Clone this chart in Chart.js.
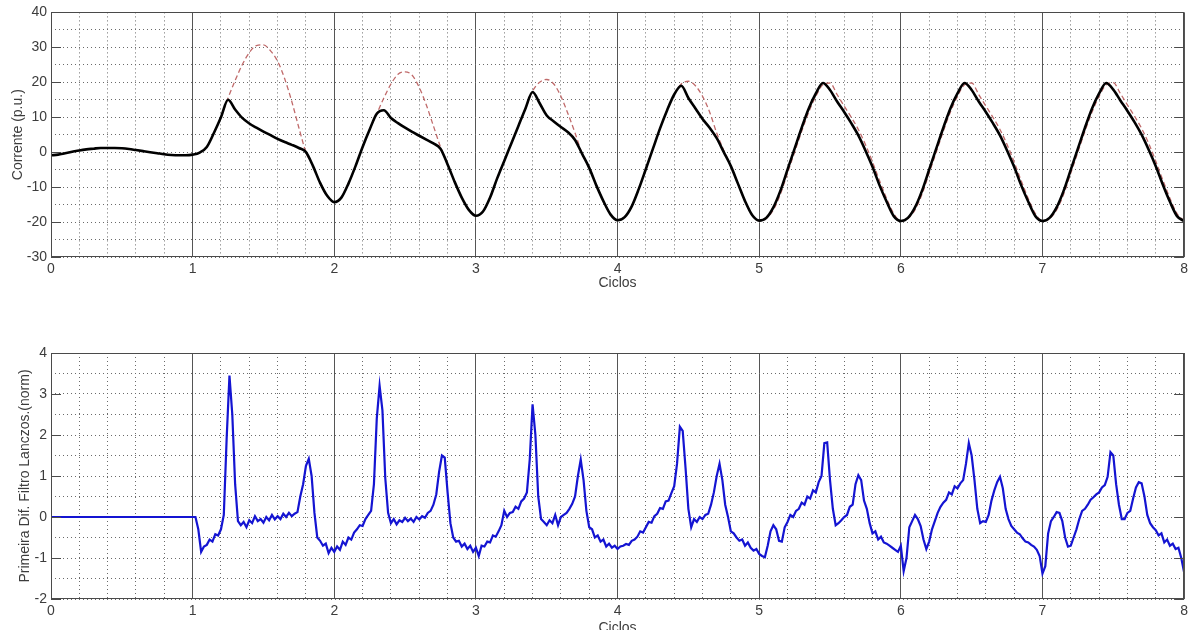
<!DOCTYPE html>
<html>
<head>
<meta charset="utf-8">
<script src="https://cdn.jsdelivr.net/npm/chart.js@4.4.1/dist/chart.umd.min.js"></script>
<style>
html, body { margin: 0; padding: 0; background: #fff; overflow: hidden; }
#grafico-corrente { position: absolute; left: 0; top: 0; }
#grafico-filtro { position: absolute; left: 0; top: 330px; }
</style>
</head>
<body>
<canvas id="grafico-corrente" width="1192" height="300"></canvas>
<canvas id="grafico-filtro" width="1192" height="312"></canvas>
<script>
// Tick positions of both charts
const marcasCiclos = Array.from({length: 41}, (_, i) => Math.round(i * 2) / 10);
const marcasCorrente = [-30, -25, -20, -15, -10, -5, 0, 5, 10, 15, 20, 25, 30, 35, 40];
const marcasFiltro = [-2, -1.5, -1, -0.5, 0, 0.5, 1, 1.5, 2, 2.5, 3, 3.5, 4];

// Upper chart: samples every 0.05 cycles
const tempoCorrente = Array.from({length: 161}, (_, i) => Math.round(i * 5) / 100);

// Measured current (black)
const correnteMedida = [
    -0.9, -0.7, -0.3, 0.1, 0.5, 0.8, 1.0, 1.2, 1.2, 1.2, 1.1, 0.9, 0.6, 0.3, 0.0, -0.3, -0.6, -0.8, -0.9, -0.9,
    -0.7, -0.1, 1.5, 5.5, 10, 15, 12.2, 9.8, 8.2, 7, 5.9, 4.9, 3.8, 2.9, 2.1, 1.2, 0, -4, -8.8, -12.5,
    -14.3, -13, -9, -4, 1.5, 6.5, 11, 12, 9.8, 8.3, 7, 5.8, 4.7, 3.6, 2.5, 1, -3.5, -8.5, -13, -16.5,
    -18.2, -17, -13, -7.5, -2.5, 2.5, 7.5, 12.5, 17.2, 14, 10.5, 8.8, 7.2, 5.7, 3.5, -0.5, -4.5, -9.5, -14, -17.8,
    -19.5, -18.6, -15.5, -10.5, -4.8, 1, 6.8, 12, 16.5, 19, 15.5, 12.5, 9.5, 7, 4, 0, -4, -9, -14, -18,
    -19.6, -18.8, -15.8, -11, -5, 1, 7, 12.5, 16.8, 19.8, 17.8, 14.5, 11.5, 8.3, 4.8, 0.5, -4.2, -9.5, -14.2, -18.3,
    -19.7, -18.8, -15.8, -11, -5, 1, 7, 12.5, 16.8, 19.8, 17.8, 14.5, 11.5, 8.3, 4.8, 0.5, -4.2, -9.5, -14.2, -18.3,
    -19.7, -18.8, -15.8, -11, -5, 1, 7, 12.5, 16.8, 19.8, 17.9, 14.8, 11.8, 8.6, 5, 0.7, -4, -9.3, -14.2, -18.3,
    -19.7
];

// Ideal current (red dashed)
const correnteIdeal = [
    -0.9, -0.7, -0.3, 0.1, 0.5, 0.8, 1.0, 1.2, 1.2, 1.2, 1.1, 0.9, 0.6, 0.3, 0.0, -0.3, -0.6, -0.8, -0.9, -0.9,
    -0.7, -0.1, 1.5, 5.5, 10, 15.5, 20.5, 25, 28.5, 30.5, 30.7, 29, 26, 21, 14.5, 7, 0, -4, -8.8, -12.5,
    -14.3, -13, -9, -4, 1.5, 6.5, 11, 15.5, 19.5, 22.3, 23, 22, 18.5, 13.5, 7.5, 1.5, -3.5, -8.5, -13, -16.5,
    -18.2, -17, -13, -7.5, -2.5, 2.5, 7.5, 12.5, 17.5, 20, 20.8, 19.5, 16, 11, 5.5, -0.5, -4.5, -9.5, -14, -17.8,
    -19.5, -18.6, -15.5, -10.5, -4.8, 1, 6.8, 12, 16.5, 19.5, 20.3, 19, 16, 11.5, 5.5, 0.5, -4, -9, -14, -18,
    -19.6, -19, -16.5, -12, -6, 0, 6, 11.5, 16, 19.3, 19.8, 16.5, 13.2, 10, 6.5, 2.2, -2.8, -8.2, -13.3, -17.6,
    -19.7, -19, -16.5, -12, -6, 0, 6, 11.5, 16, 19.3, 19.8, 16.5, 13.2, 10, 6.5, 2.2, -2.8, -8.2, -13.3, -17.6,
    -19.7, -19, -16.5, -12, -6, 0, 6, 11.5, 16, 19.3, 19.9, 16.8, 13.5, 10.3, 6.8, 2.5, -2.6, -8, -13.2, -17.6,
    -19.7
];

// Lower chart: flat start, then samples every 0.02 cycles from 1.00 to 8.00
const tempoFiltro = [0].concat(Array.from({length: 351}, (_, i) => Math.round(100 + i * 2) / 100));

const primeiraDiferenca = [
    0,
    // 1.00 - 1.98
    0, 0, -0.3, -0.85, -0.72, -0.68, -0.55, -0.6, -0.42, -0.45,
    -0.3, 0.05, 1.9, 3.45, 2.5, 0.8, -0.1, -0.2, -0.12, -0.25,
    -0.08, -0.15, 0.02, -0.1, -0.05, -0.14, 0.0, -0.08, 0.05, -0.06,
    0.02, -0.05, 0.08, 0.0, 0.1, 0.02, 0.08, 0.12, 0.5, 0.8,
    1.25, 1.42, 1.0, 0.1, -0.5, -0.58, -0.7, -0.65, -0.88, -0.75,
    // 2.00 - 2.98
    -0.85, -0.72, -0.8, -0.6, -0.68, -0.5, -0.55, -0.38, -0.3, -0.2,
    -0.22, -0.05, 0.05, 0.15, 0.8, 2.4, 3.2, 2.6, 0.95, 0.1,
    -0.15, -0.05, -0.18, -0.08, -0.12, -0.02, -0.1, -0.04, -0.12, 0.0,
    -0.06, 0.02, -0.02, 0.1, 0.15, 0.3, 0.55, 1.1, 1.5, 1.45,
    0.6, -0.15, -0.5, -0.6, -0.58, -0.72, -0.65, -0.78, -0.7, -0.85,
    // 3.00 - 3.98
    -0.75, -0.95, -0.7, -0.72, -0.6, -0.62, -0.45, -0.48, -0.35, -0.2,
    0.15, 0.0, 0.1, 0.12, 0.25, 0.2, 0.38, 0.45, 0.6, 1.4,
    2.75, 2.0, 0.5, -0.05, -0.12, -0.2, -0.08, -0.15, 0.05, -0.2,
    0.0, 0.05, 0.1, 0.2, 0.32, 0.5, 1.0, 1.4, 0.9, 0.15,
    -0.25, -0.3, -0.5, -0.45, -0.6, -0.55, -0.72, -0.65, -0.75, -0.7,
    // 4.00 - 4.98
    -0.78, -0.72, -0.7, -0.66, -0.68, -0.58, -0.55, -0.48, -0.35, -0.38,
    -0.25, -0.12, -0.14, 0.02, 0.08, 0.22, 0.2, 0.38, 0.4, 0.58,
    0.75, 1.3, 2.2, 2.1, 1.2, 0.2, -0.25, -0.05, -0.12, 0.0,
    -0.05, 0.05, 0.08, 0.3, 0.6, 1.0, 1.3, 0.9, 0.3, 0.0,
    -0.35, -0.4, -0.5, -0.58, -0.55, -0.7, -0.62, -0.75, -0.82, -0.78,
    // 5.00 - 5.98
    -0.9, -0.95, -0.98, -0.7, -0.35, -0.2, -0.3, -0.58, -0.6, -0.25,
    -0.12, 0.05, 0.0, 0.15, 0.2, 0.35, 0.3, 0.5, 0.45, 0.65,
    0.6, 0.85, 1.0, 1.8, 1.82, 0.9, 0.2, -0.2, -0.15, -0.08,
    0.0, 0.05, 0.25, 0.3, 0.8, 1.02, 0.9, 0.4, 0.2, -0.15,
    -0.4, -0.35, -0.55, -0.48, -0.62, -0.65, -0.7, -0.75, -0.8, -0.85,
    // 6.00 - 6.98
    -0.7, -1.32, -1.0, -0.25, -0.1, 0.05, -0.05, -0.22, -0.55, -0.78,
    -0.6, -0.3, -0.1, 0.1, 0.25, 0.35, 0.42, 0.6, 0.55, 0.75,
    0.7, 0.82, 0.9, 1.3, 1.8, 1.5, 0.9, 0.2, -0.15, -0.1,
    -0.12, 0.05, 0.4, 0.65, 0.85, 0.98, 0.7, 0.2, -0.05, -0.22,
    -0.3, -0.38, -0.42, -0.52, -0.6, -0.62, -0.68, -0.72, -0.8, -0.95,
    // 7.00 - 7.98
    -1.38, -1.2, -0.4, -0.1, 0.0, 0.12, 0.1, -0.1, -0.5, -0.72,
    -0.7, -0.5, -0.3, -0.05, 0.15, 0.2, 0.3, 0.42, 0.48, 0.55,
    0.6, 0.72, 0.78, 0.98, 1.58, 1.5, 0.8, 0.3, -0.05, -0.05,
    0.1, 0.15, 0.45, 0.72, 0.85, 0.82, 0.5, 0.05, -0.15, -0.25,
    -0.32, -0.45, -0.4, -0.62, -0.55, -0.7, -0.65, -0.78, -0.75, -1.0,
    // 8.00
    -1.35
];


const fonteEixo = {family: "'Liberation Sans', Arial, sans-serif", size: 14};
const corTexto = '#3c3c3c';

function EhInteiro(v, passo) {
    return Math.abs(v / passo - Math.round(v / passo)) < 1e-6;
}

// Box around the plot area and inward tick marks on both sides
const moldura = {
    id: 'moldura',
    afterDraw(chart, args, opts) {
        const {ctx, chartArea: area} = chart;
        const escalaY = chart.scales.y;
        ctx.save();
        ctx.strokeStyle = '#4a4a4a';
        ctx.lineWidth = 1;
        ctx.beginPath();
        for (const t of escalaY.ticks) {
            if (!EhInteiro(t.value, opts.passo)) continue;
            const py = Math.round(escalaY.getPixelForValue(t.value)) + 0.5;
            ctx.moveTo(area.left, py);
            ctx.lineTo(area.left + 10, py);
            ctx.moveTo(area.right - 10, py);
            ctx.lineTo(area.right, py);
        }
        ctx.stroke();
        ctx.strokeRect(Math.round(area.left) + 0.5, Math.round(area.top) + 0.5,
            Math.round(area.right - area.left) - 1, Math.round(area.bottom - area.top) - 1);
        ctx.restore();
    }
};

function Escalas(marcasY, passoRotulo, tituloY, padTitulo, padCiclos) {
    return {
        x: {
            type: 'linear',
            min: 0,
            max: 8,
            afterBuildTicks: s => { s.ticks = marcasCiclos.map(v => ({value: v})); },
            afterFit: s => { s.height = 43; },
            ticks: {
                autoSkip: false,
                maxRotation: 0,
                padding: 4,
                color: corTexto,
                font: fonteEixo,
                callback: v => EhInteiro(v, 1) ? String(Math.round(v)) : ''
            },
            grid: {
                drawTicks: false,
                lineWidth: 1,
                color: c => (c.tick && EhInteiro(c.tick.value, 1)) ? '#555555' : '#6a6a6a'
            },
            border: {
                display: false,
                dash: c => (c.tick && EhInteiro(c.tick.value, 1)) ? [] : [1, 3]
            },
            title: {
                display: true,
                text: 'Ciclos',
                color: corTexto,
                font: fonteEixo,
                padding: {top: 0, bottom: padCiclos}
            }
        },
        y: {
            min: marcasY[0],
            max: marcasY[marcasY.length - 1],
            afterBuildTicks: s => { s.ticks = marcasY.map(v => ({value: v})); },
            afterFit: s => { s.width = 51; },
            ticks: {
                autoSkip: false,
                padding: 4,
                color: corTexto,
                font: fonteEixo,
                callback: v => EhInteiro(v, passoRotulo) ? String(Math.round(v)) : ''
            },
            grid: {
                drawTicks: false,
                lineWidth: 1,
                color: '#6a6a6a'
            },
            border: {
                display: false,
                dash: [1, 3]
            },
            title: {
                display: true,
                text: tituloY,
                color: corTexto,
                font: fonteEixo,
                padding: {top: padTitulo, bottom: 0}
            }
        }
    };
}


new Chart(document.getElementById('grafico-corrente'), {
    type: 'line',
    data: {
        labels: tempoCorrente,
        datasets: [{
            label: 'Corrente medida',
            data: correnteMedida,
            borderColor: '#000000',
            borderWidth: 2.6,
            pointRadius: 0,
            cubicInterpolationMode: 'monotone'
        }, {
            label: 'Corrente ideal',
            data: correnteIdeal,
            borderColor: '#c06a6a',
            borderWidth: 1.3,
            borderDash: [5, 3],
            pointRadius: 0,
            cubicInterpolationMode: 'monotone'
        }]
    },
    options: {
        responsive: false,
        animation: false,
        events: [],
        layout: {padding: {left: 0, right: 5, top: 12, bottom: 0}},
        scales: Escalas(marcasCorrente, 10, 'Corrente (p.u.)', 10, 8),
        plugins: {
            legend: {display: false},
            tooltip: {enabled: false},
            moldura: {passo: 10}
        }
    },
    plugins: [moldura]
});

new Chart(document.getElementById('grafico-filtro'), {
    type: 'line',
    data: {
        labels: tempoFiltro,
        datasets: [{
            label: 'Primeira diferença',
            data: primeiraDiferenca,
            borderColor: '#1414d2',
            borderWidth: 2.2,
            pointRadius: 0,
            tension: 0
        }]
    },
    options: {
        responsive: false,
        animation: false,
        events: [],
        layout: {padding: {left: 0, right: 5, top: 23, bottom: 0}},
        scales: Escalas(marcasFiltro, 1, 'Primeira Dif. Filtro Lanczos.(norm)', 17, 5),
        plugins: {
            legend: {display: false},
            tooltip: {enabled: false},
            moldura: {passo: 1}
        }
    },
    plugins: [moldura]
});
</script>
</body>
</html>
